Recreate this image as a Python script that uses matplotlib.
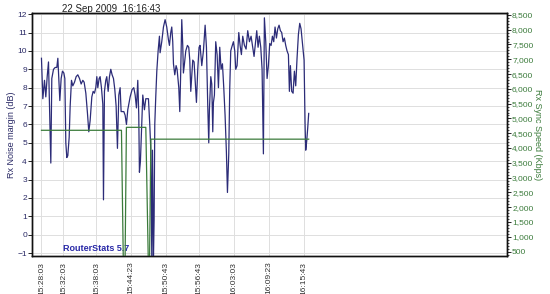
import matplotlib
matplotlib.use("Agg")
import matplotlib.pyplot as plt
from matplotlib.ticker import FuncFormatter, MultipleLocator

# elapsed minutes since 15:28:03 and Rx noise margin (dB)
noise_t = [0.0, 0.25, 0.55, 0.79, 1.04, 1.28, 1.46, 1.70, 1.88, 2.19, 2.49, 2.79, 2.98,
           3.16, 3.34, 3.58, 3.82, 4.07, 4.25, 4.43, 4.61, 4.79, 5.04, 5.22, 5.46, 5.70,
           6.01, 6.31, 6.61, 6.92, 7.22, 7.52, 7.76, 8.07, 8.37, 8.61, 8.85, 9.16, 9.40,
           9.64, 9.88, 10.07, 10.25, 10.49, 10.67, 10.91, 11.16, 11.28, 11.46, 11.70,
           11.88, 12.13, 12.37, 12.61, 12.85, 13.10, 13.34, 13.58, 13.82, 14.07, 14.31,
           14.49, 14.73, 14.98, 15.22, 15.46, 15.70, 16.13, 16.49, 16.79, 17.04, 17.28,
           17.52, 17.70, 17.82, 18.00, 18.25, 18.43, 18.73, 18.98, 19.22, 19.46, 19.70,
           19.88, 20.07, 20.19, 20.37, 20.49, 20.61, 20.79, 20.98, 21.22, 21.46, 21.58,
           21.88, 22.19, 22.49, 22.79, 23.10, 23.28, 23.52, 23.70, 23.88, 24.01, 24.25,
           24.49, 24.67, 24.98, 25.16, 25.34, 25.52, 25.70, 25.82, 26.01, 26.25, 26.55,
           26.79, 26.98, 27.16, 27.52, 27.76, 27.94, 28.19, 28.43, 28.67, 28.85, 29.16,
           29.46, 29.77, 30.01, 30.25, 30.43, 30.55, 30.80, 30.98, 31.16, 31.28, 31.46,
           31.70, 31.95, 32.19, 32.43, 32.67, 32.92, 33.16, 33.40, 33.64, 33.83, 34.07,
           34.25, 34.43, 34.61, 34.92, 35.16, 35.34, 35.58, 35.89, 36.13, 36.37, 36.61,
           36.92, 37.22, 37.52, 37.83, 38.13, 38.43, 38.67, 38.92, 39.16, 39.40, 39.64,
           39.89, 40.13, 40.37, 40.55, 40.80, 41.04, 41.28, 41.52, 41.77, 42.01, 42.25,
           42.49, 42.74, 42.98, 43.22, 43.46, 43.70, 43.95, 44.19, 44.43, 44.67, 44.92,
           45.10, 45.28, 45.52, 45.77, 46.01, 46.25, 46.49, 46.74, 46.98, 47.22, 47.52,
           47.77, 47.95, 48.07, 48.25, 48.43, 48.61]
noise_db = [9.6, 7.4, 8.4, 7.5, 8.6, 9.4, 7.0, 3.9, 8.5, 9.0, 9.1, 9.1, 9.6,
            8.5, 7.3, 8.5, 8.9, 8.8, 8.5, 5.0, 4.2, 4.3, 5.3, 7.0, 8.4, 8.1,
            8.3, 8.6, 8.7, 8.5, 8.2, 8.4, 8.3, 7.7, 6.6, 5.6, 6.2, 7.5, 7.8,
            7.7, 8.0, 8.6, 8.0, 8.5, 8.6, 8.0, 7.1, 1.9, 7.8, 8.4,
            8.6, 7.8, 8.6, 9.0, 8.7, 8.5, 7.9, 7.0, 4.7, 7.6, 8.0,
            6.7, 6.7, 6.7, 6.5, 6.0, 6.8, 7.5, 7.9, 8.0, 7.6, 6.9,
            8.4, 6.5, 3.4, 4.0, 6.0, 7.6, 6.8, 7.4, 7.4, 7.4, 6.0,
            4.7, -1.3, 4.6, -1.3, 0.8, 6.0, 7.5, 8.9, 10.0, 10.8, 9.9,
            10.5, 11.3, 11.7, 11.3, 10.6, 10.3, 11.0, 11.3, 10.5, 9.3, 8.7,
            9.2, 9.0, 8.0, 6.7, 9.0, 11.7, 10.3, 8.8, 9.3, 10.0, 10.3,
            10.2, 9.5, 7.8, 9.5, 9.4, 8.5, 7.2, 9.0, 10.2, 10.3, 9.2,
            10.0, 11.4, 10.2, 7.0, 5.0, 6.8, 8.6, 8.2, 5.6, 7.2, 7.6,
            10.5, 9.8, 8.0, 10.2, 9.0, 9.3, 8.0, 6.5, 4.5, 2.3, 4.4,
            8.0, 10.0, 10.2, 10.5, 10.0, 9.0, 9.2, 11.0, 10.3, 9.8, 10.8,
            10.3, 10.1, 11.1, 10.5, 10.8, 10.2, 9.7, 10.4, 11.1, 10.2, 10.8,
            10.2, 9.0, 4.4, 11.8, 10.5, 8.5, 9.2, 10.4, 10.3, 10.8, 10.5,
            11.3, 10.7, 11.2, 11.4, 11.1, 11.0, 10.5, 10.7, 10.3, 10.0, 9.8,
            7.8, 9.2, 7.8, 7.7, 8.9, 8.1, 9.6, 10.9, 11.5, 11.2, 10.3,
            9.5, 6.0, 4.6, 5.1, 5.8, 6.6]

# elapsed minutes and Rx sync speed (Kbps)
sync_t = [0.0, 14.55, 14.9, 15.2, 15.45, 18.98, 19.45, 19.65, 19.9, 48.61]
sync_kbps = [4600, 4600, 0, 0, 4700, 4700, 0, 0, 4300, 4300]

tick_labels = ["15:28:03", "15:32:03", "15:38:03", "15:44:23", "15:50:43",
               "15:56:43", "16:03:03", "16:09:23", "16:15:43"]


def minutes_since_start(s, start="15:28:03"):
    h, m, sec = (int(p) for p in s.split(":"))
    h0, m0, s0 = (int(p) for p in start.split(":"))
    return (h * 3600 + m * 60 + sec - (h0 * 3600 + m0 * 60 + s0)) / 60.0


plt.rcParams['font.family'] = ['Liberation Sans', 'DejaVu Sans']

navy = '#2c2c78'
green = '#3b7b3b'

fig = plt.figure(figsize=(5.5, 2.94), dpi=100)
ax = fig.add_axes([0.059, 0.129, 0.862, 0.826])
ax2 = ax.twinx()

ax.plot(noise_t, noise_db, color=navy, lw=0.9, zorder=3)
ax2.plot(sync_t, sync_kbps, color=green, lw=0.9)

ax.set_xlim(-1.64, 84.6)
ax.set_ylim(-1.16, 12.05)
ax2.set_ylim(348, 8557)

ax.set_xticks([minutes_since_start(s) for s in tick_labels])
ax.set_xticklabels(tick_labels, rotation=90, fontsize=6, color='#333333')
ax.set_yticks(range(-1, 13))
ax.tick_params(axis='y', labelsize=6, labelcolor='#2a2a66', length=3, width=0.6, pad=1)
ax.tick_params(axis='x', length=0, pad=4)
ax.grid(True, color='#dedede', lw=0.7)
ax.set_axisbelow(True)

ax2.yaxis.set_major_locator(MultipleLocator(500))
ax2.yaxis.set_minor_locator(MultipleLocator(100))
ax2.yaxis.set_major_formatter(FuncFormatter(lambda v, p: f"{int(v):,}"))
ax2.tick_params(axis='y', which='major', labelsize=6, labelcolor=green, length=3, width=0.6, pad=1)
ax2.tick_params(axis='y', which='minor', length=1.5, width=0.5)

for a in (ax, ax2):
    for sp in a.spines.values():
        sp.set_linewidth(1.0)
        sp.set_color('#111111')

ax.set_ylabel("Rx Noise margin (dB)", fontsize=6.5, color='#2a2a66', labelpad=1)
ax2.set_ylabel("Rx Sync Speed (Kbps)", fontsize=6.5, color=green, rotation=270, labelpad=6)

fig.text(0.202, 0.988, "22 Sep 2009  16:16:43", ha='center', va='top', fontsize=7, color='#222222')
ax.text(0.065, 0.012, "RouterStats 5.7", transform=ax.transAxes, fontsize=6.5,
        fontweight='bold', color='#2a2aa8', ha='left', va='bottom')

plt.savefig("out.png", dpi=100)
